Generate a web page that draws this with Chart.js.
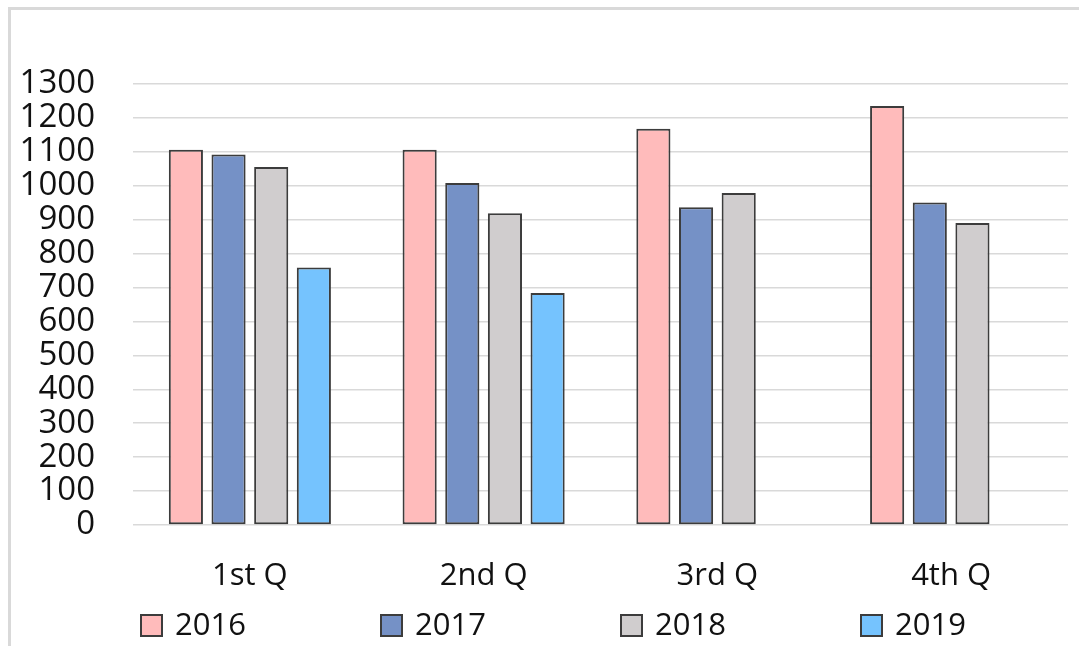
<!DOCTYPE html>
<html>
<head>
<meta charset="utf-8">
<script src="https://cdn.jsdelivr.net/npm/chart.js@4/dist/chart.umd.min.js"></script>
<style>
  html, body { margin: 0; padding: 0; background: #fff; }
  #frame { position: absolute; left: 8px; top: 7px; right: 0; bottom: 0;
           border-top: 3px solid #d9d9d9; border-left: 3px solid #d9d9d9; }
  #wrap { position: absolute; left: 0; top: 0; width: 1079px; height: 646px; }
</style>
</head>
<body>
<div id="frame"></div>
<div id="wrap"><canvas id="mycanvas" width="1079" height="646"></canvas></div>
<script>
// data
var quarters = ['1st Q', '2nd Q', '3rd Q', '4th Q']
var years = ['2016', '2017', '2018', '2019']
var sales2016 = [1106, 1106, 1168, 1235]
var sales2017 = [1092, 1008, 937, 951]
var sales2018 = [1055, 919, 979, 890]
var sales2019 = [759, 684, null, null]
var yMin = 0, yMax = 1300, yStep = 100

var colors = ['#FFBBBB', '#7591C6', '#D0CDCE', '#75C3FE']
var series = [sales2016, sales2017, sales2018, sales2019]

// simple legend drawn under the axis labels
var legendRow = {
    id: 'legendRow',
    afterDraw: function(chart, args, opts) {
        var ctx = chart.ctx
        ctx.save()
        ctx.font = opts.fontSize + 'px "Open Sans"'
        ctx.textBaseline = 'middle'
        ctx.textAlign = 'left'
        chart.data.datasets.forEach(function(ds, i) {
            var x = opts.left + i * opts.step
            ctx.fillStyle = ds.backgroundColor
            ctx.fillRect(x, opts.top, opts.size, opts.size)
            ctx.lineWidth = 2
            ctx.strokeStyle = ds.borderColor
            ctx.strokeRect(x + 1, opts.top + 1, opts.size - 2, opts.size - 2)
            ctx.fillStyle = '#111'
            ctx.fillText(ds.label, x + opts.size + opts.gap, opts.top + opts.size / 2 + 1)
        })
        ctx.restore()
    }
}

var data = {
    labels: quarters,
    datasets: years.map(function(y, i) {
        return {
            label: y,
            data: series[i],
            backgroundColor: colors[i],
            borderColor: '#3c3c3c',
            borderWidth: 2,
            borderSkipped: false,
            barPercentage: 0.8,
            categoryPercentage: 0.73
        }
    })
}

var chart = new Chart(document.getElementById('mycanvas').getContext('2d'), {
    type: 'bar',
    data: data,
    plugins: [legendRow],
    options: {
        responsive: false,
        animation: false,
        devicePixelRatio: 1,
        layout: { padding: { left: 0, top: 84, right: 11, bottom: 50 } },
        plugins: {
            legend: { display: false },
            tooltip: { enabled: false },
            legendRow: { left: 140, step: 240, top: 614, size: 23, gap: 12, fontSize: 31 }
        },
        scales: {
            x: {
                afterFit: function(scale) { scale.height = 71 },
                grid: { display: false, drawTicks: false },
                border: { display: false },
                ticks: {
                    color: '#111',
                    padding: 33,
                    font: { family: 'Open Sans', size: 31 }
                }
            },
            y: {
                min: yMin,
                max: yMax,
                afterFit: function(scale) { scale.width = 133 },
                border: { display: false },
                grid: { color: '#d9d9d9', lineWidth: 1.5, drawTicks: false },
                ticks: {
                    stepSize: yStep,
                    autoSkip: false,
                    color: '#111',
                    padding: 38,
                    font: { family: 'Open Sans', size: 33 },
                    callback: function(v) { return String(v) }
                }
            }
        }
    }
})
</script>
</body>
</html>
